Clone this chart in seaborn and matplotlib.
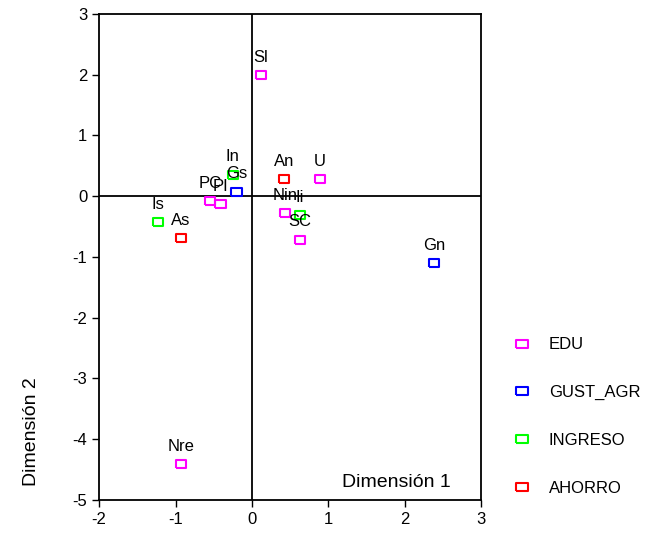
import pandas as pd
import numpy as np
import matplotlib.pyplot as plt
import seaborn as sns

# ==========================================
# DATA
# ==========================================
labels = ['Sl', 'U', 'PC', 'PI', 'Nin', 'SC', 'Nre',
          'Gs', 'Gn',
          'In', 'Is', 'Ii',
          'An', 'As']
dim1 = [0.12, 0.89, -0.55, -0.41, 0.43, 0.63, -0.93,
        -0.20, 2.38,
        -0.25, -1.23, 0.63,
        0.42, -0.93]
dim2 = [1.99, 0.28, -0.08, -0.13, -0.28, -0.72, -4.41,
        0.07, -1.10,
        0.35, -0.43, -0.31,
        0.28, -0.69]
groups = ['EDU'] * 7 + ['GUST_AGR'] * 2 + ['INGRESO'] * 3 + ['AHORRO'] * 2
group_order = ['EDU', 'GUST_AGR', 'INGRESO', 'AHORRO']
group_colors = ['#FF00FF', '#0000FF', '#00FF00', '#FF0000']

df = pd.DataFrame({'label': labels, 'Dim1': dim1, 'Dim2': dim2, 'grupo': groups})

# ==========================================
# PLOT
# ==========================================
sns.set_style('white')
plt.rcParams['font.family'] = ['Liberation Sans', 'DejaVu Sans']
plt.rcParams['axes.unicode_minus'] = False
plt.rcParams['text.color'] = 'black'

fig = plt.figure(figsize=(6.52, 5.33), dpi=100)
ax = fig.add_axes([0.152, 0.062, 0.586, 0.912])

# wide open rectangle marker
rect = [(-1.35, -1), (1.35, -1), (1.35, 1), (-1.35, 1), (-1.35, -1)]

sns.scatterplot(data=df, x='Dim1', y='Dim2', hue='grupo', hue_order=group_order,
                palette=group_colors, marker=rect, s=55, facecolor='none',
                linewidth=1.5, ax=ax, legend=False, zorder=3)
# open markers: edge colour from the group, no fill
coll = ax.collections[0]
coll.set_edgecolors([group_colors[group_order.index(g)] for g in df['grupo']])
coll.set_facecolors('none')

for _, r in df.iterrows():
    ax.annotate(r['label'], (r['Dim1'], r['Dim2']), xytext=(0, 7.5),
                textcoords='offset points', ha='center', va='bottom',
                fontsize=12, color='black')

ax.axhline(0, color='black', lw=1.3, zorder=1)
ax.axvline(0, color='black', lw=1.3, zorder=1)

ax.set_xlim(-2, 3)
ax.set_ylim(-5, 3)
ax.set_xticks(range(-2, 4))
ax.set_yticks(range(-5, 4))
ax.tick_params(axis='both', direction='out', length=5, width=1, labelsize=12,
               left=True, bottom=True, colors='black')
for sp in ax.spines.values():
    sp.set_color('black')
    sp.set_linewidth(1.3)
ax.set_xlabel('')
ax.set_ylabel('')

ax.text(0.92, 0.018, 'Dimensión 1', transform=ax.transAxes, ha='right', va='bottom',
        fontsize=14, color='black')
fig.text(0.048, 1 - 432 / 533, 'Dimensión 2', rotation=90, ha='center', va='center',
         fontsize=14, color='black')

# legend
handles = [plt.Line2D([], [], linestyle='none', marker=rect, markersize=8,
                      markerfacecolor='none', markeredgecolor=c, markeredgewidth=1.5)
           for c in group_colors]
fig.legend(handles, group_order, loc='upper left', bbox_to_anchor=(0.765, 0.395),
           frameon=False, fontsize=12, labelspacing=1.97, handlelength=1.0,
           handletextpad=1.1, labelcolor='black')

plt.savefig('out.png', dpi=100)
